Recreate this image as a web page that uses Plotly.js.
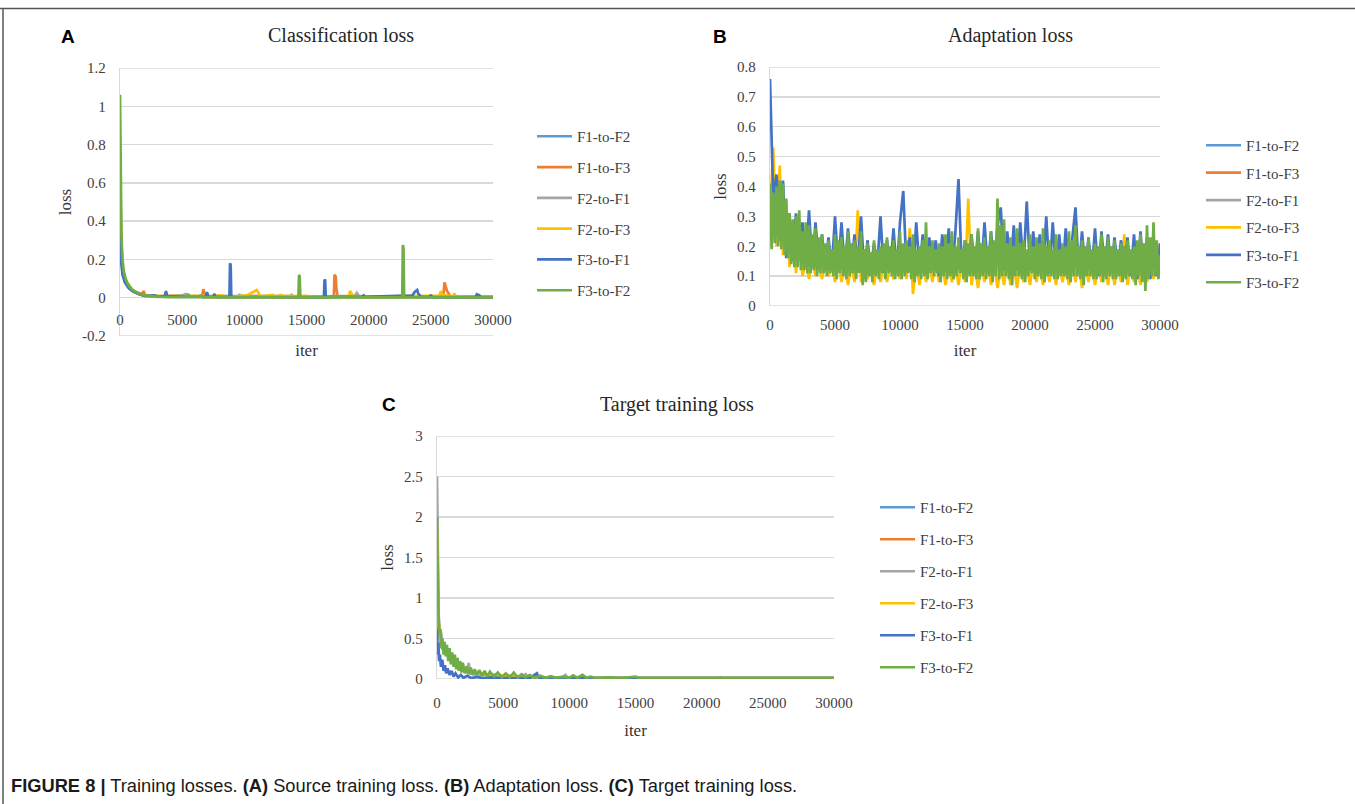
<!DOCTYPE html>
<html>
<head>
<meta charset="utf-8">
<script src="https://cdn.plot.ly/plotly-3.0.1.min.js"></script>
<style>html,body{margin:0;padding:0;background:#fff}#chart{width:1355px;height:804px}</style>
</head>
<body>
<div id="chart"></div>
<script>
// ---------- series names ----------
const seriesNames = ['F1-to-F2','F1-to-F3','F2-to-F1','F2-to-F3','F3-to-F1','F3-to-F2'];

// ---------- Panel A: Classification loss, [iter, loss] pairs ----------
const clsF1F2 = [[0,0.6],[80,0.3],[200,0.14],[400,0.09],[700,0.06],[1000,0.04],[1500,0.02],[2000,0.01],[3000,0.005],[30000,0.003]];
const clsF1F3 = [[0,0.72],[80,0.35],[200,0.15],[400,0.09],[700,0.06],[1000,0.04],[1400,0.025],[1800,0.02],[1900,0.035],[2000,0.015],[2500,0.008],[3500,0.005],[6600,0.005],[6700,0.045],[6800,0.02],[6900,0.004],[10000,0.003],[17200,0.003],[17250,0.12],[17350,0.11],[17400,0.05],[17500,0.004],[20000,0.003],[26000,0.004],[26100,0.08],[26200,0.06],[26300,0.035],[26450,0.02],[26600,0.004],[30000,0.003]];
const clsF2F1 = [[0,0.5],[80,0.25],[200,0.13],[400,0.08],[700,0.05],[1000,0.035],[1500,0.02],[2000,0.01],[3000,0.008],[5000,0.012],[5300,0.02],[5600,0.008],[9500,0.01],[9600,0.015],[9800,0.01],[13700,0.008],[13800,0.015],[13900,0.005],[18900,0.01],[19050,0.025],[19200,0.01],[20000,0.006],[25000,0.006],[30000,0.004]];
const clsF2F3 = [[0,0.7],[80,0.33],[200,0.15],[400,0.09],[700,0.07],[1000,0.04],[1500,0.02],[2000,0.01],[2700,0.012],[3200,0.008],[4500,0.01],[5000,0.006],[6000,0.01],[7500,0.008],[8000,0.012],[8500,0.01],[9000,0.005],[10200,0.012],[10800,0.03],[11000,0.04],[11150,0.025],[11300,0.006],[12300,0.015],[12500,0.005],[12900,0.015],[13200,0.008],[15000,0.01],[15600,0.005],[18400,0.005],[18500,0.035],[18650,0.02],[18800,0.005],[21000,0.004],[23000,0.01],[25700,0.01],[25800,0.035],[25950,0.015],[26800,0.006],[26900,0.022],[27000,0.008],[28000,0.005],[30000,0.004]];
const clsF3F1 = [[0,0.35],[80,0.2],[200,0.12],[400,0.08],[700,0.05],[1000,0.035],[1500,0.02],[2000,0.01],[2800,0.012],[3000,0.005],[3600,0.008],[3700,0.035],[3800,0.008],[4500,0.006],[5500,0.005],[6900,0.005],[7000,0.03],[7100,0.005],[7500,0.005],[7600,0.02],[7700,0.004],[8800,0.004],[8850,0.18],[8900,0.17],[8950,0.004],[10000,0.004],[12000,0.003],[16400,0.003],[16450,0.095],[16500,0.09],[16550,0.003],[17000,0.005],[19500,0.006],[19600,0.012],[19700,0.004],[21500,0.01],[22000,0.012],[22300,0.01],[23500,0.01],[23700,0.03],[23900,0.04],[24000,0.02],[24200,0.004],[24900,0.004],[25000,0.015],[25100,0.003],[28600,0.003],[28700,0.018],[28900,0.012],[29000,0.003],[30000,0.003]];
const clsF3F2 = [[0,1.06],[60,0.6],[120,0.32],[200,0.2],[300,0.14],[450,0.1],[600,0.075],[800,0.055],[1000,0.04],[1300,0.03],[1600,0.02],[2000,0.012],[2500,0.008],[3000,0.005],[4000,0.003],[5400,0.003],[5500,0.02],[5600,0.003],[6400,0.003],[6500,0.015],[6600,0.002],[10000,0.002],[14350,0.002],[14400,0.12],[14450,0.11],[14500,0.01],[14550,0.002],[18000,0.002],[22700,0.002],[22750,0.275],[22800,0.26],[22850,0.002],[26000,0.002],[28000,0.002],[30000,0.002]];

// ---------- Panel B: Adaptation loss ----------
const adaptIter = [
  0,250,500,750,1000,1250,1500,1750,
  2000,2250,2500,2750,3000,3250,3500,3750,
  4000,4250,4500,4750,5000,5250,5500,5750,
  6000,6250,6500,6750,7000,7250,7500,7750,
  8000,8250,8500,8750,9000,9250,9500,9750,
  10000,10250,10500,10750,11000,11250,11500,11750,
  12000,12250,12500,12750,13000,13250,13500,13750,
  14000,14250,14500,14750,15000,15250,15500,15750,
  16000,16250,16500,16750,17000,17250,17500,17750,
  18000,18250,18500,18750,19000,19250,19500,19750,
  20000,20250,20500,20750,21000,21250,21500,21750,
  22000,22250,22500,22750,23000,23250,23500,23750,
  24000,24250,24500,24750,25000,25250,25500,25750,
  26000,26250,26500,26750,27000,27250,27500,27750,
  28000,28250,28500,28750,29000,29250,29500,29750,
  30000];
const adaptIterFine = [
  0,125,250,375,500,625,750,875,1000,1125,1250,1375,1500,1625,1750,1875,
  2000,2125,2250,2375,2500,2625,2750,2875,3000,3125,3250,3375,3500,3625,3750,3875,
  4000,4125,4250,4375,4500,4625,4750,4875,5000,5125,5250,5375,5500,5625,5750,5875,
  6000,6125,6250,6375,6500,6625,6750,6875,7000,7125,7250,7375,7500,7625,7750,7875,
  8000,8125,8250,8375,8500,8625,8750,8875,9000,9125,9250,9375,9500,9625,9750,9875,
  10000,10125,10250,10375,10500,10625,10750,10875,11000,11125,11250,11375,11500,11625,11750,11875,
  12000,12125,12250,12375,12500,12625,12750,12875,13000,13125,13250,13375,13500,13625,13750,13875,
  14000,14125,14250,14375,14500,14625,14750,14875,15000,15125,15250,15375,15500,15625,15750,15875,
  16000,16125,16250,16375,16500,16625,16750,16875,17000,17125,17250,17375,17500,17625,17750,17875,
  18000,18125,18250,18375,18500,18625,18750,18875,19000,19125,19250,19375,19500,19625,19750,19875,
  20000,20125,20250,20375,20500,20625,20750,20875,21000,21125,21250,21375,21500,21625,21750,21875,
  22000,22125,22250,22375,22500,22625,22750,22875,23000,23125,23250,23375,23500,23625,23750,23875,
  24000,24125,24250,24375,24500,24625,24750,24875,25000,25125,25250,25375,25500,25625,25750,25875,
  26000,26125,26250,26375,26500,26625,26750,26875,27000,27125,27250,27375,27500,27625,27750,27875,
  28000,28125,28250,28375,28500,28625,28750,28875,29000,29125,29250,29375,29500,29625,29750,29875,
  30000];
const adaptF2F3 = [
  0.30,0.53,0.20,0.47,0.17,0.35,0.13,0.28,
  0.11,0.22,0.10,0.15,0.09,0.16,0.10,0.14,
  0.09,0.15,0.10,0.14,0.08,0.15,0.08,0.14,
  0.07,0.14,0.08,0.32,0.08,0.14,0.09,0.13,
  0.07,0.14,0.08,0.15,0.08,0.14,0.09,0.13,
  0.09,0.15,0.09,0.26,0.04,0.14,0.07,0.15,
  0.08,0.14,0.08,0.15,0.08,0.14,0.07,0.13,
  0.08,0.14,0.07,0.15,0.08,0.36,0.07,0.14,
  0.06,0.14,0.08,0.15,0.07,0.14,0.06,0.13,
  0.07,0.15,0.07,0.14,0.06,0.14,0.08,0.13,
  0.07,0.15,0.08,0.14,0.07,0.14,0.08,0.15,
  0.07,0.14,0.08,0.13,0.07,0.15,0.08,0.14,
  0.06,0.14,0.08,0.15,0.07,0.14,0.08,0.14,
  0.07,0.15,0.07,0.14,0.08,0.24,0.07,0.14,
  0.08,0.14,0.07,0.15,0.08,0.15,0.09,0.21,
  0.11];
const adaptF3F1 = [
  0.76,0.36,0.44,0.30,0.42,0.16,0.31,0.15,
  0.31,0.17,0.28,0.14,0.32,0.13,0.28,0.14,
  0.24,0.13,0.23,0.12,0.30,0.13,0.28,0.12,
  0.26,0.13,0.24,0.12,0.30,0.11,0.22,0.12,
  0.21,0.13,0.30,0.11,0.22,0.12,0.26,0.11,
  0.28,0.385,0.12,0.23,0.11,0.28,0.12,0.24,
  0.11,0.23,0.12,0.22,0.10,0.24,0.12,0.26,
  0.11,0.24,0.425,0.12,0.22,0.11,0.24,0.12,
  0.25,0.11,0.28,0.12,0.25,0.13,0.27,0.33,
  0.12,0.25,0.11,0.27,0.12,0.28,0.13,0.35,
  0.12,0.25,0.11,0.24,0.12,0.30,0.11,0.28,
  0.12,0.24,0.11,0.26,0.12,0.22,0.33,0.11,
  0.25,0.12,0.23,0.11,0.26,0.10,0.25,0.12,
  0.24,0.11,0.23,0.12,0.22,0.11,0.23,0.10,
  0.24,0.09,0.25,0.10,0.23,0.09,0.20,0.10,
  0.21];
const adaptF3F2 = [
  0.41,0.19,0.38,0.21,0.40,0.20,0.42,0.19,0.41,0.17,0.36,0.16,0.31,0.14,0.29,0.13,
  0.30,0.13,0.32,0.12,0.25,0.12,0.28,0.11,0.27,0.11,0.24,0.12,0.26,0.10,0.23,0.11,
  0.24,0.11,0.21,0.10,0.22,0.11,0.19,0.10,0.24,0.09,0.22,0.11,0.23,0.10,0.20,0.09,
  0.25,0.10,0.21,0.11,0.22,0.09,0.20,0.11,0.25,0.07,0.19,0.08,0.21,0.10,0.18,0.08,
  0.22,0.10,0.19,0.09,0.20,0.11,0.21,0.09,0.23,0.11,0.20,0.10,0.22,0.09,0.19,0.10,
  0.25,0.09,0.21,0.10,0.22,0.11,0.20,0.09,0.24,0.08,0.19,0.10,0.20,0.09,0.22,0.10,
  0.28,0.09,0.20,0.11,0.22,0.10,0.19,0.11,0.21,0.08,0.20,0.10,0.24,0.09,0.21,0.10,
  0.25,0.09,0.20,0.10,0.23,0.11,0.19,0.09,0.22,0.08,0.21,0.10,0.24,0.10,0.20,0.09,
  0.26,0.09,0.21,0.10,0.23,0.09,0.20,0.10,0.25,0.08,0.22,0.10,0.36,0.09,0.27,0.10,
  0.29,0.10,0.21,0.09,0.23,0.07,0.20,0.10,0.26,0.10,0.21,0.09,0.22,0.08,0.19,0.10,
  0.24,0.11,0.20,0.09,0.23,0.10,0.21,0.09,0.26,0.08,0.20,0.10,0.22,0.10,0.19,0.09,
  0.24,0.09,0.19,0.10,0.21,0.10,0.20,0.09,0.25,0.08,0.22,0.10,0.27,0.10,0.20,0.09,
  0.22,0.07,0.20,0.10,0.23,0.10,0.19,0.09,0.21,0.09,0.20,0.10,0.24,0.08,0.20,0.09,
  0.23,0.10,0.20,0.09,0.22,0.09,0.19,0.10,0.21,0.08,0.20,0.09,0.22,0.10,0.19,0.09,
  0.20,0.07,0.22,0.10,0.24,0.08,0.21,0.05,0.27,0.09,0.23,0.10,0.28,0.10,0.22,0.09,
  0.17];
// series mostly hidden beneath the others, [iter, loss] pairs
const adaptF1F2 = [[0,0.32],[1000,0.2],[2000,0.18],[3000,0.15],[4000,0.17],[5000,0.14],[6000,0.16],[7000,0.14],[8000,0.15],[9000,0.13],[10000,0.16],[11000,0.14],[12000,0.15],[13000,0.13],[14000,0.16],[15000,0.14],[16000,0.15],[17000,0.13],[18000,0.16],[19000,0.14],[20000,0.15],[21000,0.13],[22000,0.16],[23000,0.14],[24000,0.15],[25000,0.13],[26000,0.16],[27000,0.14],[28000,0.15],[29000,0.13],[30000,0.15]];
const adaptF1F3 = [[0,0.28],[1000,0.22],[2000,0.16],[3000,0.17],[4000,0.15],[5000,0.16],[6000,0.13],[7000,0.15],[8000,0.14],[9000,0.16],[10000,0.13],[11000,0.15],[12000,0.14],[13000,0.16],[14000,0.13],[15000,0.15],[16000,0.14],[17000,0.16],[18000,0.13],[19000,0.15],[20000,0.14],[21000,0.16],[22000,0.13],[23000,0.15],[24000,0.14],[25000,0.16],[26000,0.13],[27000,0.15],[28000,0.14],[29000,0.16],[30000,0.13]];
const adaptF2F1 = [[0,0.3],[1000,0.21],[2000,0.17],[3000,0.16],[4000,0.14],[5000,0.15],[6000,0.17],[7000,0.13],[8000,0.16],[9000,0.15],[10000,0.14],[11000,0.16],[12000,0.13],[13000,0.15],[14000,0.14],[15000,0.16],[16000,0.13],[17000,0.15],[18000,0.14],[19000,0.16],[20000,0.13],[21000,0.15],[22000,0.14],[23000,0.16],[24000,0.13],[25000,0.15],[26000,0.14],[27000,0.16],[28000,0.13],[29000,0.15],[30000,0.14]];

// ---------- Panel C: Target training loss, [iter, loss] pairs ----------
const tgtF1F2 = [[0,1.5],[100,0.65],[300,0.4],[600,0.34],[1000,0.25],[1500,0.17],[2500,0.09],[4000,0.05],[7000,0.025],[12000,0.012],[30000,0.01]];
const tgtF1F3 = [[0,1.7],[100,0.7],[300,0.42],[600,0.35],[1000,0.26],[1500,0.18],[2500,0.1],[4000,0.05],[7000,0.025],[12000,0.012],[30000,0.01]];
const tgtF2F1 = [[0,2.5],[50,1.2],[120,0.8],[200,0.62],[300,0.58],[400,0.45],[600,0.36],[800,0.3],[1000,0.24],[1300,0.2],[1600,0.15],[2000,0.1],[2300,0.08],[2400,0.2],[2500,0.07],[2800,0.06],[3500,0.05],[4500,0.04],[5500,0.035],[6500,0.03],[6700,0.06],[6900,0.02],[8000,0.02],[9500,0.02],[9700,0.05],[9900,0.015],[12000,0.012],[15000,0.012],[20000,0.01],[30000,0.01]];
const tgtF2F3 = [[0,1.8],[100,0.75],[300,0.43],[600,0.36],[1000,0.26],[1500,0.18],[2500,0.1],[4000,0.05],[7000,0.025],[12000,0.012],[30000,0.01]];
const tgtF3F1 = [[0,0.62],[40,0.3],[100,0.45],[160,0.22],[220,0.3],[300,0.15],[400,0.24],[500,0.1],[600,0.17],[700,0.07],[800,0.13],[950,0.05],[1100,0.1],[1250,0.03],[1400,0.07],[1600,0.02],[1800,0.05],[2000,0.015],[2300,0.04],[2600,0.01],[3000,0.025],[3500,0.01],[4000,0.02],[5000,0.01],[7000,0.01],[7550,0.07],[7650,0.03],[7750,0.01],[9000,0.01],[12000,0.01],[20000,0.01],[30000,0.01]];
const tgtF3F2 = [[0,2.0],[60,1.05],[120,0.75],[180,0.55],[250,0.62],[330,0.40],[420,0.50],[500,0.30],[580,0.46],[660,0.28],[750,0.42],[850,0.22],[950,0.38],[1050,0.18],[1150,0.33],[1250,0.15],[1350,0.30],[1450,0.12],[1550,0.26],[1650,0.10],[1750,0.22],[1850,0.08],[1950,0.20],[2100,0.07],[2250,0.16],[2400,0.06],[2550,0.14],[2700,0.05],[2850,0.12],[3000,0.05],[3200,0.11],[3400,0.04],[3600,0.10],[3800,0.03],[4000,0.09],[4300,0.03],[4600,0.08],[4900,0.02],[5200,0.07],[5500,0.02],[5800,0.08],[6100,0.02],[6400,0.06],[6700,0.02],[7000,0.05],[7400,0.015],[7800,0.04],[8200,0.015],[8600,0.035],[9000,0.015],[9500,0.03],[10000,0.015],[10300,0.045],[10600,0.015],[11000,0.05],[11300,0.015],[11600,0.03],[12000,0.012],[13000,0.02],[14000,0.012],[15000,0.03],[15300,0.012],[16000,0.012],[18000,0.012],[20000,0.01],[21300,0.01],[21400,0.02],[21500,0.01],[23000,0.01],[25000,0.01],[27000,0.01],[30000,0.01]];

// ---------- axis ticks ----------
const iterTicks = [0,5000,10000,15000,20000,25000,30000];
const clsTicks = [-0.2,0,0.2,0.4,0.6,0.8,1,1.2];
const clsTickText = ['-0.2','0','0.2','0.4','0.6','0.8','1','1.2'];

// ---------- styling ----------
const colors = ['#5B9BD5','#ED7D31','#A5A5A5','#FFC000','#4472C4','#70AD47'];
const W = 1355, H = 804;
const px = v => v / W;
const py = v => 1 - v / H;
const serif = 'Liberation Serif, Times New Roman, serif';
const sans = 'Liberation Sans, Arial, sans-serif';
const txtCol = '#404040';
const gridCol = '#d9d9d9';
const LW = 2.7;

const traces = [];
function addPairs(pairs, i, ax, leg) {
  traces.push({x: pairs.map(d => d[0]), y: pairs.map(d => d[1]), xaxis: 'x' + ax, yaxis: 'y' + ax,
    mode: 'lines', name: seriesNames[i], legend: leg, legendgroup: leg + i,
    line: {color: colors[i], width: LW}, hoverinfo: 'skip'});
}
function addArr(xs, ys, i, ax, leg) {
  traces.push({x: xs, y: ys, xaxis: 'x' + ax, yaxis: 'y' + ax,
    mode: 'lines', name: seriesNames[i], legend: leg, legendgroup: leg + i,
    line: {color: colors[i], width: LW}, hoverinfo: 'skip'});
}
[clsF1F2, clsF1F3, clsF2F1, clsF2F3, clsF3F1, clsF3F2].forEach((p, i) => addPairs(p, i, '', 'legend'));
addPairs(adaptF1F2, 0, '2', 'legend2');
addPairs(adaptF1F3, 1, '2', 'legend2');
addPairs(adaptF2F1, 2, '2', 'legend2');
addArr(adaptIter, adaptF2F3, 3, '2', 'legend2');
addArr(adaptIter, adaptF3F1, 4, '2', 'legend2');
addArr(adaptIterFine, adaptF3F2, 5, '2', 'legend2');
[tgtF1F2, tgtF1F3, tgtF2F1, tgtF2F3, tgtF3F1, tgtF3F2].forEach((p, i) => addPairs(p, i, '3', 'legend3'));

const tickFont = {family: serif, size: 15, color: txtCol};
const titleFont = {family: serif, size: 17, color: '#333'};
function xAx(dom, labGap, titleGap, extra) {
  return Object.assign({domain: dom, range: [0, 30000], tickvals: iterTicks, tickformat: 'd',
    showgrid: false, zeroline: false, showline: false, ticks: '', tickfont: tickFont,
    ticklabelstandoff: labGap, fixedrange: true,
    title: {text: 'iter', font: titleFont, standoff: titleGap}}, extra);
}
function yAx(dom, extra) {
  return Object.assign({domain: dom, showgrid: true, gridcolor: gridCol, gridwidth: 1.3,
    zeroline: false, showline: true, linecolor: gridCol, linewidth: 1.3, ticks: '',
    tickfont: tickFont, ticklabelstandoff: 10, fixedrange: true,
    title: {text: 'loss', font: titleFont, standoff: 6}}, extra);
}
function legendAt(x, y, gap) {
  return {x: x, y: y, xanchor: 'left', yanchor: 'top', bgcolor: 'rgba(0,0,0,0)', itemwidth: 35,
    font: {family: serif, size: 15, color: txtCol}, traceorder: 'grouped', tracegroupgap: gap};
}
function edgeGrid(ax, yv) {
  return {type: 'line', xref: 'x' + ax + ' domain', x0: 0, x1: 1, yref: 'y' + ax, y0: yv, y1: yv,
    layer: 'below', line: {color: gridCol, width: 1.3}};
}
function label(text, x, y, font, extra) {
  return Object.assign({text: text, x: px(x), y: py(y), xref: 'paper', yref: 'paper',
    xanchor: 'center', yanchor: 'middle', showarrow: false, font: font}, extra || {});
}
const titleFontBig = {family: serif, size: 20, color: '#262626'};
const letterFont = {family: sans, size: 19, color: '#000'};

const layout = {
  width: W, height: H, margin: {l: 0, r: 0, t: 0, b: 0},
  paper_bgcolor: '#fff', plot_bgcolor: '#fff', showlegend: true,
  xaxis: xAx([px(120), px(493)], 11, 17, {anchor: 'free', position: py(297.7)}),
  yaxis: yAx([py(336), py(68)], {anchor: 'x', range: [-0.2, 1.2], tickvals: clsTicks, ticktext: clsTickText}),
  xaxis2: xAx([px(770), px(1160)], 8, 12, {anchor: 'y2'}),
  yaxis2: yAx([py(306), py(67)], {anchor: 'x2', range: [0, 0.8], dtick: 0.1}),
  xaxis3: xAx([px(437), px(834)], 13, 14, {anchor: 'y3'}),
  yaxis3: yAx([py(679), py(436)], {anchor: 'x3', range: [0, 3], dtick: 0.5}),
  legend: legendAt(px(532), py(120), 8.3),
  legend2: legendAt(px(1201), py(129), 4.9),
  legend3: legendAt(px(875), py(491), 9.5),
  annotations: [
    label('Classification loss', 341, 35, titleFontBig),
    label('Adaptation loss', 1010, 35, titleFontBig),
    label('Target training loss', 677, 404, titleFontBig),
    label('<b>A</b>', 68, 36, letterFont),
    label('<b>B</b>', 720, 36, letterFont),
    label('<b>C</b>', 389, 404, letterFont),
    label('<b>FIGURE 8 |</b> Training losses. <b>(A)</b> Source training loss. <b>(B)</b> Adaptation loss. <b>(C)</b> Target training loss.',
      9, 785, {family: 'Liberation Sans Narrow, Arial Narrow, Liberation Sans, sans-serif', size: 18.3, color: '#1a1a1a'},
      {xanchor: 'left'})
  ],
  shapes: [
    {type: 'line', xref: 'paper', yref: 'paper', x0: 0, x1: 1, y0: py(8.5), y1: py(8.5), line: {color: '#555', width: 1.5}},
    {type: 'line', xref: 'paper', yref: 'paper', x0: px(3), x1: px(3), y0: 0, y1: py(8.5), line: {color: '#555', width: 1.5}},
    edgeGrid('', 1.2), edgeGrid('', -0.2),
    edgeGrid('2', 0.8), edgeGrid('2', 0),
    edgeGrid('3', 3), edgeGrid('3', 0)
  ]
};

Plotly.newPlot('chart', traces, layout, {staticPlot: true, displayModeBar: false});
</script>
</body>
</html>
